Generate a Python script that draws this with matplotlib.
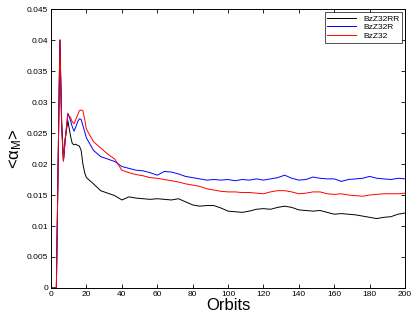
import matplotlib
matplotlib.use('Agg')
import matplotlib.pyplot as plt

plt.rcParams['font.family'] = ['Liberation Sans', 'DejaVu Sans']
plt.rcParams['mathtext.fontset'] = 'custom'
plt.rcParams['mathtext.rm'] = 'Liberation Sans'
plt.rcParams['mathtext.it'] = 'Liberation Sans'

# orbit sample points
orbits = [0, 2, 3, 4, 5, 6, 7, 8, 9.5, 11, 12, 13, 14, 15, 16, 17, 18, 19,
          20, 24, 28, 32, 36, 40, 44, 48, 52, 56, 60, 64, 68, 72, 76, 80,
          84, 88, 92, 96, 100, 104, 108, 112, 116, 120, 124, 128, 132, 136,
          140, 144, 148, 152, 156, 160, 164, 168, 172, 176, 180, 184, 188,
          192, 196, 200]

bzz32rr = [0, 0, 0, 0.02, 0.040, 0.027, 0.0205, 0.024, 0.027, 0.0245, 0.0233,
           0.0231, 0.0232, 0.023, 0.0229, 0.0222, 0.020, 0.0186,
           0.0178, 0.0168, 0.0157, 0.0153, 0.0149, 0.0142, 0.0147, 0.0145,
           0.0144, 0.0143, 0.0144, 0.0143, 0.0142, 0.0144, 0.0139, 0.0134,
           0.0132, 0.0133, 0.0133, 0.0129, 0.0124, 0.0123, 0.0122, 0.0124,
           0.0127, 0.0128, 0.0127, 0.0130, 0.0132, 0.0130, 0.0126, 0.0125,
           0.0124, 0.0125, 0.0122, 0.0119, 0.0120, 0.0119, 0.0118, 0.0116,
           0.0114, 0.0112, 0.0114, 0.0115, 0.0119, 0.0121]

bzz32r = [0, 0, 0, 0.02, 0.040, 0.026, 0.0205, 0.024, 0.0282, 0.027, 0.026,
          0.0253, 0.026, 0.0268, 0.0273, 0.0272, 0.0262, 0.0252,
          0.0242, 0.0222, 0.0212, 0.0208, 0.0204, 0.0196, 0.0193, 0.0190,
          0.0189, 0.0186, 0.0182, 0.0188, 0.0187, 0.0184, 0.0180, 0.0178,
          0.0176, 0.0174, 0.0175, 0.0174, 0.0175, 0.0173, 0.0175, 0.0174,
          0.0176, 0.0174, 0.0176, 0.0178, 0.0182, 0.0177, 0.0174, 0.0175,
          0.0179, 0.0177, 0.0176, 0.0176, 0.0172, 0.0175, 0.0176, 0.0177,
          0.0180, 0.0177, 0.0176, 0.0175, 0.0177, 0.0176]

bzz32 = [0, 0, 0, 0.02, 0.040, 0.026, 0.0205, 0.024, 0.028, 0.0275, 0.0268,
         0.0265, 0.0272, 0.0279, 0.0286, 0.0287, 0.0286, 0.0272,
         0.0256, 0.0236, 0.0226, 0.0216, 0.0208, 0.0190, 0.0186, 0.0183,
         0.0181, 0.0178, 0.0177, 0.0175, 0.0173, 0.0171, 0.0168, 0.0166,
         0.0164, 0.0160, 0.0158, 0.0156, 0.0155, 0.0155, 0.0154, 0.0154,
         0.0153, 0.0152, 0.0155, 0.0157, 0.0157, 0.0155, 0.0152, 0.0153,
         0.0155, 0.0155, 0.0152, 0.0151, 0.0152, 0.0150, 0.0149, 0.0148,
         0.0150, 0.0151, 0.0152, 0.0152, 0.0152, 0.0153]

fig = plt.figure(figsize=(4.15, 3.17), dpi=100)
ax = fig.add_axes([0.123, 0.0915, 0.853, 0.880])

ax.plot(orbits, bzz32rr, color='black', linewidth=0.7, label='BzZ32RR')
ax.plot(orbits, bzz32r, color='blue', linewidth=0.7, label='BzZ32R')
ax.plot(orbits, bzz32, color='red', linewidth=0.7, label='BzZ32')

ax.set_xlim(0, 200)
ax.set_ylim(0, 0.045)
ax.set_xticks(range(0, 201, 20))
ax.set_yticks([0, 0.005, 0.01, 0.015, 0.02, 0.025, 0.03, 0.035, 0.04, 0.045])
ax.yaxis.set_major_formatter(plt.FormatStrFormatter('%g'))
ax.tick_params(direction='in', length=3, width=0.6, labelsize=6,
               top=True, right=True, pad=2)
for s in ax.spines.values():
    s.set_linewidth(0.7)

ax.set_xlabel('Orbits', fontsize=12, labelpad=0)
ax.set_ylabel(r'<$\alpha_M$>', fontsize=12, labelpad=2)

leg = ax.legend(loc='upper right', fontsize=6, frameon=True, fancybox=False,
                edgecolor='black', handlelength=3.5, borderpad=0.3,
                labelspacing=0.1, borderaxespad=0.4)
leg.get_frame().set_linewidth(0.6)

fig.savefig('out.png', dpi=100)
